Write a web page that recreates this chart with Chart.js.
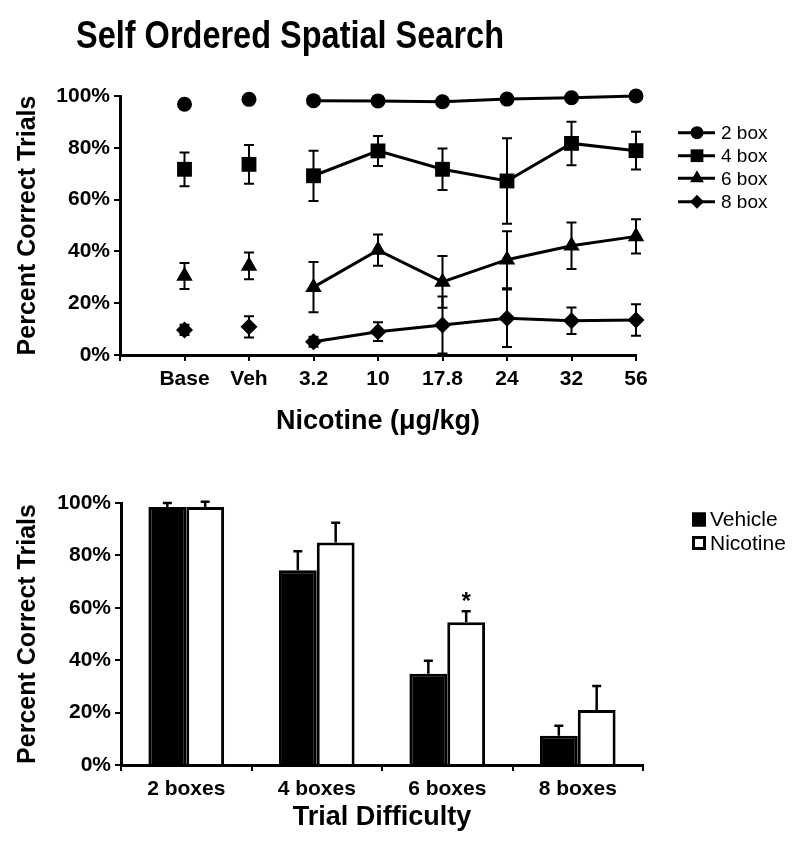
<!DOCTYPE html>
<html>
<head>
<meta charset="utf-8">
<script src="https://cdn.jsdelivr.net/npm/chart.js@4.4.0/dist/chart.umd.min.js"></script>
<style>
  html, body { margin: 0; padding: 0; background: #fff; }
  #wrap { position: relative; width: 800px; height: 854px; }
  canvas { position: absolute; left: 0; }
  #top { top: 0; }
  #bottom { top: 460px; }
</style>
</head>
<body>
<div id="wrap">
  <canvas id="top" width="800" height="460"></canvas>
  <canvas id="bottom" width="800" height="394"></canvas>
</div>
<script>
// top panel: percent correct by nicotine dose
const doseLabels = ['', 'Base', 'Veh', '3.2', '10', '17.8', '24', '32', '56'];
const box2 = [null, 96.8, 98.7, 98.2, 98.1, 97.8, 98.8, 99.3, 100];
const box2Err = [null, 0, 0.6, 0.7, 0.6, 0.7, 0.6, 0.5, 0.3];
const box4 = [null, 71.7, 73.6, 69.2, 78.8, 71.7, 67.2, 81.7, 78.9];
const box4Err = [null, 6.5, 7.5, 9.7, 5.8, 8, 16.5, 8.4, 7.3];
const box6 = [null, 30.5, 34.4, 26.2, 40.5, 28.2, 36.8, 42.2, 45.8];
const box6Err = [null, 5, 5.2, 9.7, 6, 10, 11, 9, 6.6];
const box8 = [null, 9.7, 10.9, 5.1, 9, 11.6, 14.2, 13.2, 13.5];
const box8Err = [null, 2, 4.1, 1.9, 3.6, 11, 11.1, 5.1, 6.1];
const lineNames = ['2 box', '4 box', '6 box', '8 box'];

// bottom panel: vehicle vs nicotine by difficulty
const difficultyLabels = ['2 boxes', '4 boxes', '6 boxes', '8 boxes'];
const vehicle = [98.5, 74.3, 34.8, 11.2];
const vehicleErr = [1.5, 7.3, 5, 3.8];
const nicotine = [98.5, 84.9, 54.5, 21];
const nicotineErr = [2, 7.6, 4.2, 9.2];
const nicotineMarks = ['', '', '*', ''];
const barNames = ['Vehicle', 'Nicotine'];

const yTicks = [0, 20, 40, 60, 80, 100];

const FAMILY = "'Liberation Sans', Arial, sans-serif";
const BLACK = '#000';

function marker(ctx, style, x, y, r) {
  ctx.beginPath();
  if (style === 'circle') {
    ctx.arc(x, y, r, 0, Math.PI * 2);
  } else if (style === 'rect') {
    const h = r * Math.SQRT1_2;
    ctx.rect(x - h, y - h, 2 * h, 2 * h);
  } else if (style === 'triangle') {
    ctx.moveTo(x, y - r);
    ctx.lineTo(x + r * 0.866, y + r / 2);
    ctx.lineTo(x - r * 0.866, y + r / 2);
    ctx.closePath();
  } else {
    ctx.moveTo(x, y - r);
    ctx.lineTo(x + r, y);
    ctx.lineTo(x, y + r);
    ctx.lineTo(x - r, y);
    ctx.closePath();
  }
  ctx.fillStyle = BLACK;
  ctx.fill();
}

const errorBars = {
  id: 'errorBars',
  afterDatasetsDraw(chart, args, opts) {
    const ctx = chart.ctx;
    const ys = chart.scales.y;
    chart.data.datasets.forEach((ds, i) => {
      if (!ds.errors) return;
      chart.getDatasetMeta(i).data.forEach((el, j) => {
        const v = ds.data[j], e = ds.errors[j];
        if (v == null || !e) return;
        const x = el.x;
        const yTop = ys.getPixelForValue(v + e);
        const yBot = opts.upOnly ? el.y : ys.getPixelForValue(Math.max(0, v - e));
        ctx.save();
        ctx.strokeStyle = BLACK;
        ctx.lineWidth = opts.lineWidth;
        ctx.beginPath();
        ctx.moveTo(x, yTop); ctx.lineTo(x, yBot);
        ctx.moveTo(x - opts.cap, yTop); ctx.lineTo(x + opts.cap, yTop);
        if (!opts.upOnly) { ctx.moveTo(x - opts.cap, yBot); ctx.lineTo(x + opts.cap, yBot); }
        ctx.stroke();
        if (ds.marks && ds.marks[j]) {
          ctx.fillStyle = BLACK;
          ctx.font = 'bold 24px ' + FAMILY;
          ctx.textAlign = 'center';
          ctx.textBaseline = 'alphabetic';
          ctx.fillText(ds.marks[j], x, yTop - 2);
        }
        ctx.restore();
      });
    });
  }
};

// condensed-looking title: draw at full height, squeeze horizontally to the reference width
const titlePlugin = {
  id: 'bigTitle',
  afterDraw(chart) {
    const ctx = chart.ctx;
    const text = 'Self Ordered Spatial Search';
    ctx.save();
    ctx.font = 'bold 39px ' + FAMILY;
    const w = ctx.measureText(text).width;
    ctx.translate(290, 48);
    ctx.scale(428 / w, 1);
    ctx.fillStyle = BLACK;
    ctx.textAlign = 'center';
    ctx.textBaseline = 'alphabetic';
    ctx.fillText(text, 0, 0);
    ctx.restore();
  }
};

const lineLegend = {
  id: 'lineLegend',
  afterDraw(chart) {
    const ctx = chart.ctx;
    const rows = [132.7, 155.7, 178.3, 201.7];
    const sizes = [6.5, 9, 8, 7];
    ctx.save();
    chart.data.datasets.forEach((ds, i) => {
      const y = rows[i];
      ctx.strokeStyle = BLACK;
      ctx.lineWidth = 3;
      ctx.beginPath();
      ctx.moveTo(678, y); ctx.lineTo(715, y);
      ctx.stroke();
      marker(ctx, ds.pointStyle, 697, y, sizes[i]);
      ctx.fillStyle = BLACK;
      ctx.font = '19px ' + FAMILY;
      ctx.textAlign = 'left';
      ctx.textBaseline = 'middle';
      ctx.fillText(ds.label, 721, y + 1);
    });
    ctx.restore();
  }
};

const barLegend = {
  id: 'barLegend',
  afterDraw(chart) {
    const ctx = chart.ctx;
    const rows = [59.5, 83];
    ctx.save();
    chart.data.datasets.forEach((ds, i) => {
      const y = rows[i];
      ctx.fillStyle = ds.backgroundColor;
      ctx.fillRect(692, y - 7, 14, 14);
      ctx.strokeStyle = BLACK;
      ctx.lineWidth = 3;
      ctx.strokeRect(693.5, y - 5.5, 11, 11);
      ctx.fillStyle = BLACK;
      ctx.font = '21px ' + FAMILY;
      ctx.textAlign = 'left';
      ctx.textBaseline = 'middle';
      ctx.fillText(ds.label, 710, y + 1);
    });
    ctx.restore();
  }
};

function yScale(width, titlePad) {
  return {
    min: 0, max: 100,
    afterBuildTicks: s => { s.ticks = yTicks.map(v => ({ value: v })); },
    ticks: { color: BLACK, font: { family: FAMILY, size: 21, weight: 'bold' }, padding: 4, callback: v => v + '%' },
    grid: { drawOnChartArea: false, color: BLACK, lineWidth: 2, tickLength: 6 },
    border: { color: BLACK, width: 3 },
    title: { display: true, text: 'Percent Correct Trials', color: BLACK, font: { family: FAMILY, size: 25, weight: 'bold' }, padding: { top: titlePad, bottom: 0 } },
    afterFit: s => { s.width = width; }
  };
}

function xScale(title, height, offset, titlePad) {
  return {
    offset: offset,
    ticks: { color: BLACK, font: { family: FAMILY, size: 21, weight: 'bold' }, autoSkip: false, maxRotation: 0, padding: 6 },
    grid: { drawOnChartArea: false, color: BLACK, lineWidth: 2, tickLength: 6, offset: offset },
    border: { color: BLACK, width: 3 },
    title: { display: true, text: title, color: BLACK, font: { family: FAMILY, size: 27, weight: 'bold' }, padding: { top: 0, bottom: titlePad } },
    afterFit: s => { s.height = height; }
  };
}

const lineSeries = [
  [box2, box2Err, 'circle', 7.5],
  [box4, box4Err, 'rect', 10.5],
  [box6, box6Err, 'triangle', 9.5],
  [box8, box8Err, 'rectRot', 8.5]
];

new Chart(document.getElementById('top'), {
  type: 'line',
  data: {
    labels: doseLabels,
    datasets: lineSeries.map((s, i) => ({
      label: lineNames[i],
      data: s[0],
      errors: s[1],
      pointStyle: s[2],
      pointRadius: s[3],
      pointBackgroundColor: BLACK,
      pointBorderColor: BLACK,
      pointBorderWidth: 0,
      borderColor: BLACK,
      borderWidth: 3,
      clip: false,
      segment: { borderColor: c => c.p0DataIndex < 3 ? 'rgba(0,0,0,0)' : BLACK }
    }))
  },
  options: {
    responsive: false,
    animation: false,
    layout: { padding: { top: 96, right: 164, left: 0, bottom: 0 } },
    plugins: {
      legend: { display: false },
      tooltip: { enabled: false },
      errorBars: { lineWidth: 2, cap: 5, upOnly: false }
    },
    scales: {
      x: xScale('Nicotine (\u03bcg/kg)', 105, false, 22),
      y: yScale(120, 13)
    }
  },
  plugins: [errorBars, titlePlugin, lineLegend]
});

new Chart(document.getElementById('bottom'), {
  type: 'bar',
  data: {
    labels: difficultyLabels,
    datasets: [
      { label: barNames[0], data: vehicle, errors: vehicleErr, backgroundColor: BLACK },
      { label: barNames[1], data: nicotine, errors: nicotineErr, marks: nicotineMarks, backgroundColor: '#fff' }
    ].map(d => Object.assign(d, { borderColor: BLACK, borderWidth: 3, borderSkipped: 'bottom', categoryPercentage: 0.58, barPercentage: 1.0 }))
  },
  options: {
    responsive: false,
    animation: false,
    layout: { padding: { top: 43, right: 157, left: 0, bottom: 0 } },
    plugins: {
      legend: { display: false },
      tooltip: { enabled: false },
      errorBars: { lineWidth: 2.5, cap: 4.5, upOnly: true }
    },
    scales: {
      x: xScale('Trial Difficulty', 89, true, 20),
      y: yScale(121, 13)
    }
  },
  plugins: [errorBars, barLegend]
});
</script>
</body>
</html>
